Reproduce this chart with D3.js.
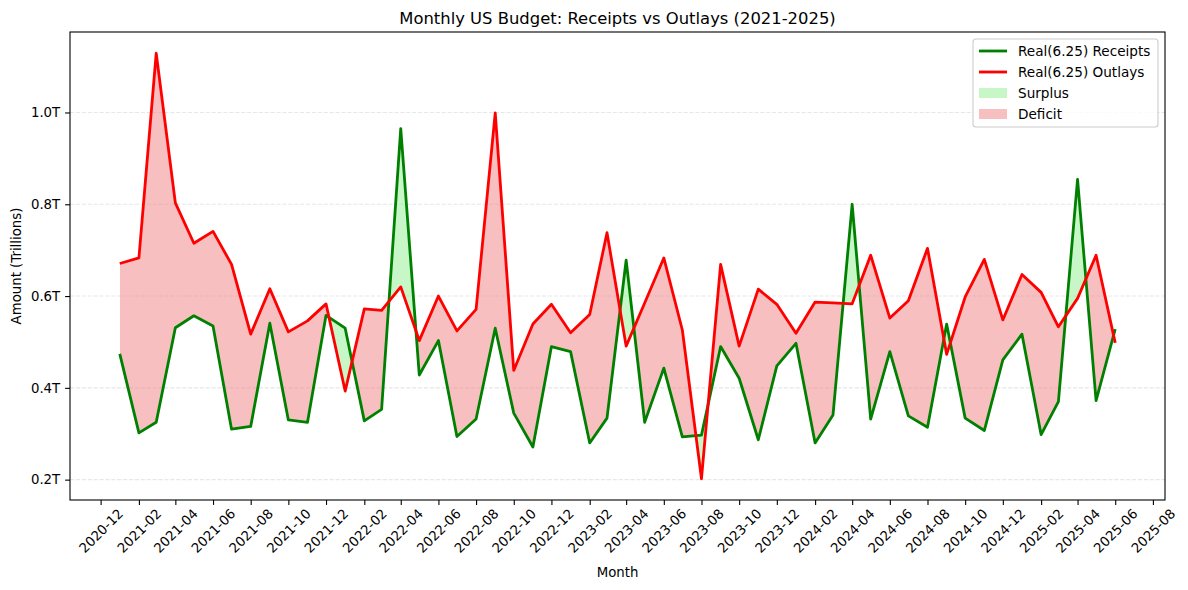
<!DOCTYPE html>
<html>
<head>
<meta charset="utf-8">
<script src="https://cdn.jsdelivr.net/npm/d3@7"></script>
<style>
  html, body { margin: 0; padding: 0; background: #fff; }
  svg { display: block; font-family: "DejaVu Sans", sans-serif; }
</style>
</head>
<body>
<svg id="chart" width="1188" height="590"></svg>
<script>
const months = [
  "2021-01","2021-02","2021-03","2021-04","2021-05","2021-06","2021-07","2021-08","2021-09","2021-10","2021-11","2021-12",
  "2022-01","2022-02","2022-03","2022-04","2022-05","2022-06","2022-07","2022-08","2022-09","2022-10","2022-11","2022-12",
  "2023-01","2023-02","2023-03","2023-04","2023-05","2023-06","2023-07","2023-08","2023-09","2023-10","2023-11","2023-12",
  "2024-01","2024-02","2024-03","2024-04","2024-05","2024-06","2024-07","2024-08","2024-09","2024-10","2024-11","2024-12",
  "2025-01","2025-02","2025-03","2025-04","2025-05","2025-06"
];
const receipts = [
  0.474,0.302,0.325,0.531,0.557,0.535,0.310,0.316,0.541,0.330,0.325,0.558,
  0.530,0.328,0.353,0.965,0.428,0.503,0.294,0.332,0.530,0.345,0.271,0.490,
  0.479,0.280,0.334,0.678,0.325,0.443,0.293,0.297,0.490,0.421,0.287,0.448,
  0.497,0.280,0.341,0.800,0.332,0.479,0.339,0.314,0.539,0.334,0.307,0.461,
  0.517,0.298,0.370,0.854,0.372,0.528
];
const outlays = [
  0.671,0.683,1.129,0.803,0.715,0.741,0.669,0.517,0.616,0.522,0.546,0.583,
  0.393,0.572,0.569,0.620,0.503,0.600,0.524,0.571,0.999,0.438,0.539,0.582,
  0.520,0.560,0.738,0.491,0.585,0.683,0.526,0.202,0.669,0.491,0.615,0.582,
  0.519,0.587,0.585,0.583,0.689,0.552,0.590,0.704,0.473,0.598,0.680,0.548,
  0.647,0.608,0.533,0.595,0.689,0.498
];
const xTickLabels = [
  "2020-12","2021-02","2021-04","2021-06","2021-08","2021-10","2021-12",
  "2022-02","2022-04","2022-06","2022-08","2022-10","2022-12",
  "2023-02","2023-04","2023-06","2023-08","2023-10","2023-12",
  "2024-02","2024-04","2024-06","2024-08","2024-10","2024-12",
  "2025-02","2025-04","2025-06","2025-08"
];
const yTicks = [0.2, 0.4, 0.6, 0.8, 1.0];
const legendLabels = ["Real(6.25) Receipts", "Real(6.25) Outlays", "Surplus", "Deficit"];

const parse = d3.timeParse("%Y-%m");
const data = months.map((m, i) => ({ date: parse(m), r: receipts[i], o: outlays[i] }));

const svg = d3.select("#chart");
const L = 70, R = 1165, T = 32, B = 500;

const t0 = data[0].date, t1 = data[data.length - 1].date;
const xPad = (t1 - t0) * 0.05;
const x = d3.scaleTime().domain([new Date(+t0 - xPad), new Date(+t1 + xPad)]).range([L, R]);
const allVals = receipts.concat(outlays);
const vmin = d3.min(allVals), vmax = d3.max(allVals);
const yPad = (vmax - vmin) * 0.05;
const y = d3.scaleLinear().domain([vmin - yPad, vmax + yPad]).range([B, T]);

// grid
svg.append("g").selectAll("line").data(yTicks).join("line")
  .attr("x1", L).attr("x2", R)
  .attr("y1", d => y(d)).attr("y2", d => y(d))
  .attr("stroke", "#b0b0b0").attr("stroke-opacity", 0.3)
  .attr("stroke-width", 1.1).attr("stroke-dasharray", "4.1,1.8");

// clip paths
const defs = svg.append("defs");
defs.append("clipPath").attr("id", "above").append("path")
  .attr("d", d3.area().x(d => x(d.date)).y0(T - 50).y1(d => y(d.o))(data));
defs.append("clipPath").attr("id", "below").append("path")
  .attr("d", d3.area().x(d => x(d.date)).y0(B + 50).y1(d => y(d.o))(data));

const between = d3.area().x(d => x(d.date)).y0(d => y(d.o)).y1(d => y(d.r));
svg.append("path").attr("d", between(data))
  .attr("fill", "lightgreen").attr("fill-opacity", 0.5)
  .attr("clip-path", "url(#above)");
svg.append("path").attr("d", between(data))
  .attr("fill", "lightcoral").attr("fill-opacity", 0.5)
  .attr("clip-path", "url(#below)");

// lines
const lineR = d3.line().x(d => x(d.date)).y(d => y(d.r));
const lineO = d3.line().x(d => x(d.date)).y(d => y(d.o));
svg.append("path").attr("d", lineR(data)).attr("fill", "none")
  .attr("stroke", "green").attr("stroke-width", 2.8).attr("stroke-linejoin", "round");
svg.append("path").attr("d", lineO(data)).attr("fill", "none")
  .attr("stroke", "red").attr("stroke-width", 2.8).attr("stroke-linejoin", "round");

// frame
svg.append("rect").attr("x", L).attr("y", T).attr("width", R - L).attr("height", B - T)
  .attr("fill", "none").attr("stroke", "#000").attr("stroke-width", 1.1);

// y axis
const yAxis = d3.axisLeft(y).tickValues(yTicks).tickSize(4.9).tickPadding(4.9)
  .tickFormat(d => d.toFixed(1) + "T");
const gy = svg.append("g").attr("transform", `translate(${L},0)`).call(yAxis);
gy.select(".domain").remove();
gy.selectAll(".tick line").attr("stroke", "#000").attr("stroke-width", 1.1);
gy.selectAll(".tick text").attr("font-size", 13.3).attr("fill", "#000")
  .attr("font-family", "DejaVu Sans");

// x axis
const xTickDates = xTickLabels.map(parse);
const xAxis = d3.axisBottom(x).tickValues(xTickDates).tickSize(4.9)
  .tickFormat(d3.timeFormat("%Y-%m"));
const gx = svg.append("g").attr("transform", `translate(0,${B})`).call(xAxis);
gx.select(".domain").remove();
gx.selectAll(".tick line").attr("stroke", "#000").attr("stroke-width", 1.1);
gx.selectAll(".tick text")
  .attr("font-size", 13.3).attr("fill", "#000").attr("font-family", "DejaVu Sans")
  .attr("text-anchor", "middle").attr("dominant-baseline", "central")
  .attr("y", 0).attr("dy", null)
  .attr("transform", "translate(0,31) rotate(-45)");

// labels
svg.append("text").attr("x", (L + R) / 2).attr("y", 24).attr("text-anchor", "middle")
  .attr("font-size", 16.4).text("Monthly US Budget: Receipts vs Outlays (2021-2025)");
svg.append("text").attr("x", (L + R) / 2).attr("y", 577).attr("text-anchor", "middle")
  .attr("font-size", 13.3).text("Month");
svg.append("text").attr("transform", `translate(21,${(T + B) / 2}) rotate(-90)`)
  .attr("text-anchor", "middle").attr("font-size", 13.3).text("Amount (Trillions)");

// legend
const lg = svg.append("g");
lg.append("rect").attr("x", 973).attr("y", 39).attr("width", 185).attr("height", 88)
  .attr("rx", 3).attr("fill", "#fff").attr("fill-opacity", 0.8)
  .attr("stroke", "#cccccc").attr("stroke-width", 1.1);
const items = [
  { type: "line", color: "green" },
  { type: "line", color: "red" },
  { type: "patch", color: "lightgreen" },
  { type: "patch", color: "lightcoral" }
];
items.forEach((it, i) => {
  const cy = 51 + i * 21;
  if (it.type === "line") {
    lg.append("line").attr("x1", 979).attr("x2", 1007).attr("y1", cy).attr("y2", cy)
      .attr("stroke", it.color).attr("stroke-width", 2.8);
  } else {
    lg.append("rect").attr("x", 979).attr("y", cy - 5).attr("width", 28).attr("height", 10)
      .attr("fill", it.color).attr("fill-opacity", 0.5);
  }
  lg.append("text").attr("x", 1018).attr("y", cy).attr("dominant-baseline", "central")
    .attr("font-size", 13.6).text(legendLabels[i]);
});
</script>
</body>
</html>
